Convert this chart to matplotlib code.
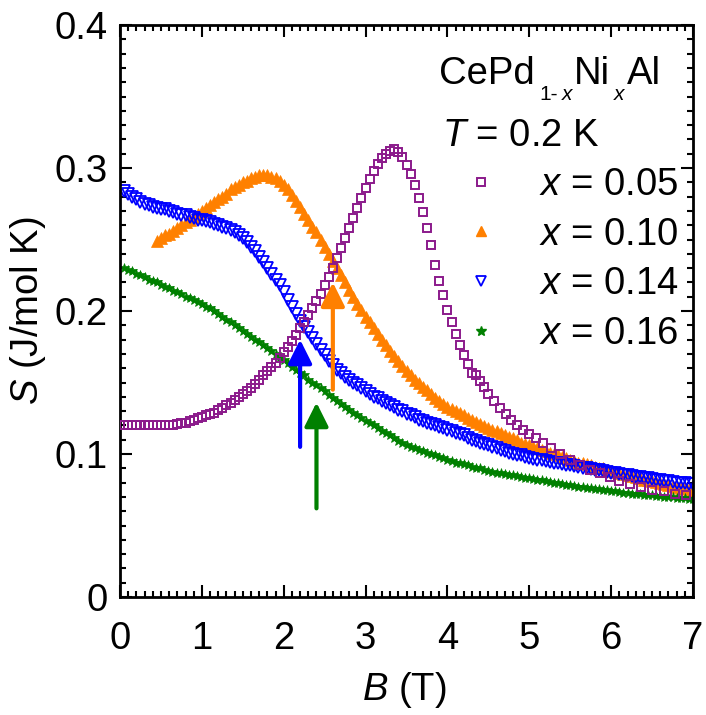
import matplotlib
matplotlib.use("Agg")
import matplotlib.pyplot as plt
from matplotlib.lines import Line2D
from matplotlib.transforms import IdentityTransform

plt.rcParams['font.family'] = ['Liberation Sans', 'DejaVu Sans']
plt.rcParams['mathtext.fontset'] = 'custom'
plt.rcParams['mathtext.rm'] = 'Liberation Sans'
plt.rcParams['mathtext.it'] = 'Liberation Sans:italic'
plt.rcParams['mathtext.bf'] = 'Liberation Sans:bold'

# ---------------- data ----------------
B_grid = [0.05, 0.10, 0.15, 0.20, 0.25, 0.30, 0.35, 0.40, 0.45, 0.50,
          0.55, 0.60, 0.65, 0.70, 0.75, 0.80, 0.85, 0.90, 0.95, 1.00,
          1.05, 1.10, 1.15, 1.20, 1.25, 1.30, 1.35, 1.40, 1.45, 1.50,
          1.55, 1.60, 1.65, 1.70, 1.75, 1.80, 1.85, 1.90, 1.95, 2.00,
          2.05, 2.10, 2.15, 2.20, 2.25, 2.30, 2.35, 2.40, 2.45, 2.50,
          2.55, 2.60, 2.65, 2.70, 2.75, 2.80, 2.85, 2.90, 2.95, 3.00,
          3.05, 3.10, 3.15, 3.20, 3.25, 3.30, 3.35, 3.40, 3.45, 3.50,
          3.55, 3.60, 3.65, 3.70, 3.75, 3.80, 3.85, 3.90, 3.95, 4.00,
          4.05, 4.10, 4.15, 4.20, 4.25, 4.30, 4.35, 4.40, 4.45, 4.50,
          4.55, 4.60, 4.65, 4.70, 4.75, 4.80, 4.85, 4.90, 4.95, 5.00,
          5.05, 5.10, 5.15, 5.20, 5.25, 5.30, 5.35, 5.40, 5.45, 5.50,
          5.55, 5.60, 5.65, 5.70, 5.75, 5.80, 5.85, 5.90, 5.95, 6.00,
          6.05, 6.10, 6.15, 6.20, 6.25, 6.30, 6.35, 6.40, 6.45, 6.50,
          6.55, 6.60, 6.65, 6.70, 6.75, 6.80, 6.85, 6.90, 6.95, 7.00]

B_x005 = [0.05, 0.10, 0.15, 0.20, 0.25, 0.30, 0.35, 0.40, 0.45, 0.50,
          0.55, 0.60, 0.65, 0.70, 0.75, 0.80, 0.85, 0.90, 0.95, 1.00,
          1.05, 1.10, 1.15, 1.20, 1.25, 1.30, 1.35, 1.40, 1.45, 1.50,
          1.55, 1.60, 1.65, 1.70, 1.75, 1.80, 1.85, 1.90, 1.95, 2.00,
          2.05, 2.10, 2.15, 2.20, 2.25, 2.30, 2.35, 2.40, 2.45, 2.50,
          2.55, 2.60, 2.65, 2.70, 2.75, 2.80, 2.85, 2.90, 2.95, 3.00,
          3.05, 3.10, 3.15, 3.20, 3.25, 3.30, 3.35, 3.40, 3.45, 3.50,
          3.55, 3.60, 3.65, 3.70, 3.75, 3.80, 3.85, 3.90, 3.95, 4.00,
          4.05, 4.10, 4.15, 4.20, 4.25, 4.30, 4.35, 4.40, 4.45, 4.50,
          4.57, 4.64, 4.71, 4.78, 4.85, 4.92, 5.00, 5.08, 5.17, 5.27,
          5.38, 5.50, 5.62, 5.74, 5.86, 5.98, 6.10, 6.23, 6.36, 6.50,
          6.64, 6.78, 6.92]
S_x005 = [0.120, 0.120, 0.120, 0.120, 0.120, 0.120, 0.120, 0.120, 0.120, 0.120,
          0.120, 0.120, 0.1205, 0.121, 0.1215, 0.122, 0.123, 0.124, 0.125, 0.126,
          0.127, 0.128, 0.129, 0.131, 0.132, 0.134, 0.136, 0.138, 0.140, 0.142,
          0.144, 0.146, 0.149, 0.152, 0.155, 0.158, 0.161, 0.164, 0.167, 0.171,
          0.175, 0.179, 0.183, 0.188, 0.192, 0.197, 0.202, 0.207, 0.212, 0.218,
          0.224, 0.230, 0.237, 0.244, 0.251, 0.258, 0.265, 0.272, 0.279, 0.286,
          0.292, 0.298, 0.303, 0.307, 0.310, 0.312, 0.313, 0.311, 0.308, 0.302,
          0.296, 0.288, 0.279, 0.269, 0.258, 0.246, 0.232, 0.221, 0.211, 0.201,
          0.192, 0.184, 0.176, 0.169, 0.163, 0.157, 0.155, 0.151, 0.147, 0.142,
          0.137, 0.132, 0.128, 0.124, 0.120, 0.117, 0.114, 0.111, 0.108, 0.104,
          0.100, 0.096, 0.092, 0.089, 0.087, 0.084, 0.081, 0.079, 0.077, 0.075,
          0.074, 0.072, 0.071]

B_x010 = B_grid[8:]
S_x010 = [0.249, 0.251,
          0.253, 0.254, 0.256, 0.258, 0.260, 0.262, 0.264, 0.266, 0.268, 0.270,
          0.272, 0.274, 0.276, 0.278, 0.280, 0.282, 0.285, 0.287, 0.288, 0.290,
          0.291, 0.293, 0.294, 0.295, 0.295, 0.295, 0.294, 0.293, 0.291, 0.288,
          0.285, 0.281, 0.277, 0.273, 0.268, 0.264, 0.259, 0.255, 0.250, 0.245,
          0.240, 0.235, 0.230, 0.225, 0.220, 0.215, 0.210, 0.205, 0.201, 0.196,
          0.192, 0.188, 0.184, 0.180, 0.176, 0.172, 0.1685, 0.165, 0.1615, 0.158,
          0.155, 0.152, 0.1495, 0.147, 0.1445, 0.142, 0.1395, 0.137, 0.135, 0.133,
          0.1315, 0.130, 0.1285, 0.127, 0.1255, 0.124, 0.1225, 0.121, 0.1195, 0.118,
          0.117, 0.116, 0.1145, 0.113, 0.112, 0.111, 0.1095, 0.108, 0.107, 0.106,
          0.105, 0.104, 0.103, 0.102, 0.101, 0.100, 0.099, 0.098, 0.097, 0.096,
          0.095, 0.094, 0.0935, 0.093, 0.092, 0.091, 0.0905, 0.090, 0.089, 0.088,
          0.0875, 0.087, 0.086, 0.085, 0.0845, 0.084, 0.083, 0.082, 0.0815, 0.081,
          0.0805, 0.080, 0.079, 0.078, 0.0775, 0.077, 0.0765, 0.076, 0.0755, 0.075]

B_x014 = B_grid
S_x014 = [0.284, 0.282, 0.280, 0.278, 0.276, 0.275, 0.274, 0.273, 0.272, 0.271,
          0.271, 0.270, 0.269, 0.268, 0.267, 0.267, 0.266, 0.265, 0.264, 0.264,
          0.263, 0.262, 0.261, 0.260, 0.259, 0.258, 0.257, 0.255, 0.253, 0.251,
          0.248, 0.245, 0.242, 0.238, 0.234, 0.230, 0.226, 0.222, 0.218, 0.213,
          0.208, 0.203, 0.198, 0.193, 0.189, 0.185, 0.181, 0.177, 0.173, 0.169,
          0.165, 0.162, 0.159, 0.157, 0.154, 0.152, 0.150, 0.148, 0.146, 0.144,
          0.142, 0.140, 0.139, 0.137, 0.136, 0.134, 0.133, 0.131, 0.130, 0.128,
          0.127, 0.126, 0.124, 0.123, 0.122, 0.121, 0.120, 0.119, 0.118, 0.117,
          0.116, 0.115, 0.114, 0.113, 0.111, 0.110, 0.109, 0.108, 0.107, 0.106,
          0.105, 0.104, 0.103, 0.102, 0.101, 0.100, 0.0995, 0.099, 0.098, 0.097,
          0.0965, 0.096, 0.0955, 0.095, 0.0945, 0.094, 0.0935, 0.093, 0.0925, 0.092,
          0.0915, 0.091, 0.0905, 0.090, 0.0895, 0.089, 0.0885, 0.088, 0.0875, 0.087,
          0.0865, 0.086, 0.0855, 0.085, 0.0845, 0.084, 0.0838, 0.0835, 0.083, 0.0825,
          0.082, 0.0815, 0.081, 0.0808, 0.0805, 0.080, 0.0798, 0.0795, 0.079, 0.0788]

B_x016 = B_grid
S_x016 = [0.230, 0.229, 0.228, 0.226, 0.225, 0.224, 0.222, 0.221, 0.220, 0.218,
          0.217, 0.216, 0.214, 0.213, 0.212, 0.210, 0.209, 0.208, 0.206, 0.205,
          0.203, 0.202, 0.200, 0.198, 0.196, 0.194, 0.192, 0.190, 0.188, 0.186,
          0.184, 0.182, 0.180, 0.178, 0.176, 0.174, 0.172, 0.170, 0.168, 0.166,
          0.164, 0.161, 0.159, 0.157, 0.155, 0.152, 0.150, 0.148, 0.146, 0.144,
          0.141, 0.139, 0.137, 0.135, 0.133, 0.131, 0.129, 0.127, 0.125, 0.123,
          0.1215, 0.120, 0.118, 0.116, 0.1145, 0.113, 0.111, 0.109, 0.1075, 0.106,
          0.105, 0.104, 0.103, 0.102, 0.101, 0.100, 0.099, 0.098, 0.097, 0.096,
          0.095, 0.094, 0.0935, 0.093, 0.092, 0.091, 0.0905, 0.090, 0.089, 0.088,
          0.0875, 0.087, 0.0865, 0.086, 0.0855, 0.085, 0.0845, 0.084, 0.0835, 0.083,
          0.0825, 0.082, 0.0815, 0.081, 0.0805, 0.080, 0.0795, 0.079, 0.0785, 0.078,
          0.0775, 0.077, 0.0768, 0.0765, 0.076, 0.0757, 0.0753, 0.075, 0.0745, 0.074,
          0.0738, 0.0735, 0.073, 0.0727, 0.0723, 0.072, 0.0718, 0.0715, 0.0712, 0.071,
          0.0708, 0.0705, 0.0702, 0.070, 0.0698, 0.0695, 0.0693, 0.069, 0.0688, 0.0685]

# arrows: (B position, tail S, tip S)
arrow_B = [2.2, 2.4, 2.6]
arrow_tail = [0.105, 0.062, 0.145]
arrow_tip = [0.180, 0.136, 0.220]
arrow_colors = ['#0000FF', '#008000', '#FF8000']

labels = ['$x$ = 0.05', '$x$ = 0.10', '$x$ = 0.14', '$x$ = 0.16']

# compound name pieces: (text, is_subscript, italic)
formula_parts = [('CePd', False, False), ('1-', True, False), ('x', True, True),
                 ('Ni', False, False), ('x', True, True), ('Al', False, False)]

# ---------------- figure ----------------
FS = 27.5
FS_SUB = 15
fig = plt.figure(figsize=(7.06, 7.15), dpi=100)
ax = fig.add_axes([0.170, 0.165, 0.8116, 0.800])

c_p, c_o, c_b, c_g = '#8B1A8B', '#FF8000', '#0000FF', '#008000'

ax.plot(B_x005, S_x005, ls='none', marker='s', ms=5.3, mfc='none',
        mec=c_p, mew=1.4, zorder=3)
ax.plot(B_x010, S_x010, ls='none', marker='^', ms=8, mfc=c_o,
        mec=c_o, mew=0.5, zorder=2)
ax.plot(B_x014, S_x014, ls='none', marker='v', ms=8, mfc='none',
        mec=c_b, mew=1.3, zorder=2.5)
ax.plot(B_x016, S_x016, ls='none', marker='*', ms=7.5, mfc=c_g,
        mec=c_g, mew=0.5, zorder=2)

for xb, y0, y1, col in zip(arrow_B, arrow_tail, arrow_tip, arrow_colors):
    ax.annotate('', xy=(xb, y1), xytext=(xb, y0),
                arrowprops=dict(arrowstyle='-|>,head_length=0.72,head_width=0.36',
                                lw=3, color=col, shrinkA=0, shrinkB=0,
                                mutation_scale=20, capstyle='round'),
                zorder=4)

ax.set_xlim(0, 7)
ax.set_ylim(0, 0.4)
ax.set_xticks([0, 1, 2, 3, 4, 5, 6, 7])
ax.set_yticks([0, 0.1, 0.2, 0.3, 0.4])
ax.set_yticklabels(['0', '0.1', '0.2', '0.3', '0.4'])
ax.set_xticks([i / 10 for i in range(71)], minor=True)
ax.set_yticks([i / 100 for i in range(41)], minor=True)

ax.tick_params(which='both', direction='in', top=True, right=True,
               labelsize=FS, width=1.5)
ax.tick_params(which='major', length=8.5)
ax.tick_params(which='minor', length=4.3)
ax.tick_params(axis='x', which='major', pad=17)
ax.tick_params(axis='y', which='major', pad=9)
for sp in ax.spines.values():
    sp.set_linewidth(2)

ax.set_xlabel('$B$ (T)', fontsize=FS)
ax.set_ylabel('$S$ (J/mol K)', fontsize=FS)
ax.xaxis.set_label_coords(0.497, -0.128)
ax.yaxis.set_label_coords(-0.125, 0.5)

# compound name, built piece by piece for low, small subscripts
renderer = fig.canvas.get_renderer()
x_px, y_px = ax.transAxes.transform((0.557, 0.897))
gaps = {True: 3, False: 2}
for i, (txt, sub, ital) in enumerate(formula_parts):
    if i > 0:
        x_px += 4 if sub else 2
    t = fig.text(x_px, y_px - (16 if sub else 0), txt, transform=IdentityTransform(),
                 fontsize=FS_SUB if sub else FS, style='italic' if ital else 'normal',
                 ha='left', va='baseline')
    x_px = t.get_window_extent(renderer).x1

ax.text(0.562, 0.788, '$T$ = 0.2 K', transform=ax.transAxes,
        fontsize=FS, ha='left', va='baseline')

leg_handles = [
    Line2D([], [], ls='none', marker='s', ms=5.3, mfc='none', mec=c_p, mew=1.4),
    Line2D([], [], ls='none', marker='^', ms=7.5, mfc=c_o, mec=c_o),
    Line2D([], [], ls='none', marker='v', ms=7.5, mfc='none', mec=c_b, mew=1.3),
    Line2D([], [], ls='none', marker='*', ms=7.5, mfc=c_g, mec=c_g),
]
ax.legend(leg_handles, labels, loc='upper left', bbox_to_anchor=(0.600, 0.752),
          frameon=False, fontsize=FS, handlelength=0.89, handletextpad=1.07,
          labelspacing=0.36, borderpad=0, borderaxespad=0)

fig.savefig('out.png', dpi=100)
